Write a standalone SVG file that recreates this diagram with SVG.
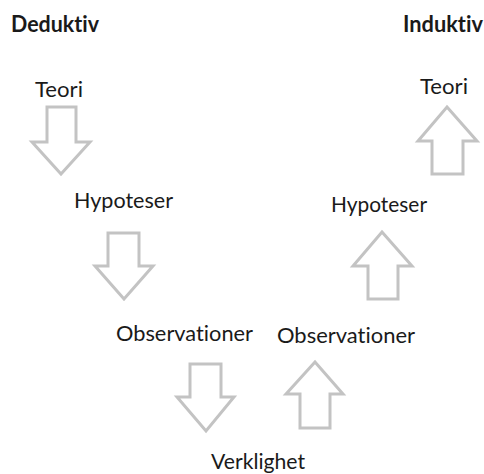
<svg xmlns="http://www.w3.org/2000/svg" width="484" height="474" viewBox="0 0 484 474">
<style>
.t{font-family:Lato,"Open Sans","Liberation Sans",sans-serif;font-size:22px;fill:#1a1a1a;font-variant-ligatures:none;font-feature-settings:"liga" 0,"clig" 0}
.b{font-weight:bold}
.a{fill:#ffffff;stroke:#c3c3c3;stroke-width:3;stroke-linejoin:miter}
</style>
<rect width="484" height="474" fill="#ffffff"/>
<g id="connectors">
<polygon class="a" points="47,107 76,107 76,142 90,142 61,174 32,142 47,142"/>
<polygon class="a" points="108,233 139,233 139,266 153,266 124,299 95,266 108,266"/>
<polygon class="a" points="190,364 221,364 221,397 234,397 206,431 177,397 190,397"/>
<polygon class="a" points="315,362 343,394 330,394 330,428 300,428 300,394 286,394"/>
<polygon class="a" points="382,232 412,266 398,266 398,299 368,299 368,266 353,266"/>
<polygon class="a" points="447,107 477,141 463,141 463,174 432,174 432,141 418,141"/>
</g>
<g id="deduktiv"><text class="t b" x="11" y="32" textLength="88" lengthAdjust="spacingAndGlyphs">Deduktiv</text></g>
<g id="induktiv"><text class="t b" x="403" y="32" textLength="80" lengthAdjust="spacingAndGlyphs">Induktiv</text></g>
<g id="teori-d"><text class="t" x="35" y="97" textLength="48" lengthAdjust="spacingAndGlyphs">Teori</text></g>
<g id="teori-i"><text class="t" x="420" y="94" textLength="48" lengthAdjust="spacingAndGlyphs">Teori</text></g>
<g id="hypoteser-d"><text class="t" x="74" y="208" textLength="99" lengthAdjust="spacingAndGlyphs">Hypoteser</text></g>
<g id="hypoteser-i"><text class="t" x="331" y="212" textLength="96" lengthAdjust="spacingAndGlyphs">Hypoteser</text></g>
<g id="observationer-d"><text class="t" x="116" y="341" textLength="137" lengthAdjust="spacingAndGlyphs">Observationer</text></g>
<g id="observationer-i"><text class="t" x="277" y="343" textLength="138" lengthAdjust="spacingAndGlyphs">Observationer</text></g>
<g id="verklighet"><text class="t" x="211" y="469" textLength="94" lengthAdjust="spacingAndGlyphs">Verklighet</text></g>
</svg>
